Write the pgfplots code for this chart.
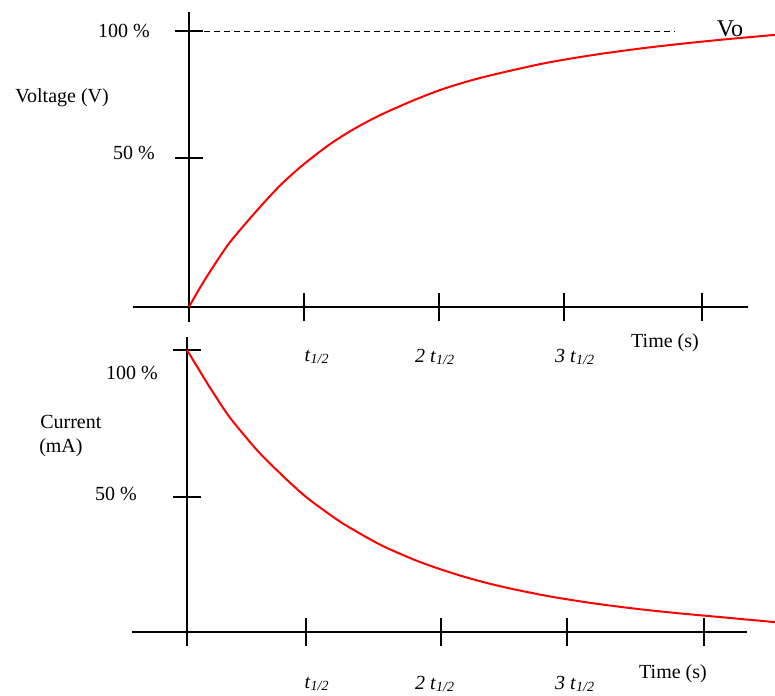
\documentclass[border=0pt]{standalone}
\usepackage{pgfplots}
\pgfplotsset{compat=1.18}
\usepackage{fontspec}
\setmainfont{Liberation Serif}
\newcommand\lbl{\fontsize{15}{18}\selectfont}
\newcommand\thalf[1]{\textit{#1t}\textsubscript{\textit{1/2}}}
\begin{document}
\begin{tikzpicture}
\useasboundingbox (0,0) rectangle (581.25pt,522pt);
\pgfplotsset{
  myax/.style={
    axis lines=middle,
    axis line style={-, line width=1pt, black},
    x=0.75pt,
    clip=false,
    tick align=center,
    major tick length=21pt,
    tick style={line width=1pt, black},
    xticklabels={}, yticklabels={},
    anchor=south west,
  }
}
% Voltage
\begin{axis}[myax, at={(99.75pt,280.5pt)}, y=2.07pt,
  xmin=-56, xmax=559, ymin=-5.43, ymax=106.88,
  xtick={115,250,375,513}, ytick={54,100}]
\addplot[black, line width=0.7pt, dash pattern=on 4.5pt off 3pt] coordinates {(15,100) (486,100)};
\addplot[red, line width=1.5pt, smooth] coordinates {
(0,0) (11,7.0) (24,14.5) (41,23.5) (68,35.0) (91,44.0) (114,51.5) (141,59.0)
(164,64.3) (191,69.5) (224,74.8) (251,78.6) (281,82.0) (314,85.0) (358,88.5)
(404,91.3) (448,93.5) (488,95.2) (534,96.9) (586,98.6)};
\end{axis}
% Current
\begin{axis}[myax, at={(99pt,37.5pt)}, y=2.115pt,
  xmin=-55, xmax=560, ymin=-4.96, ymax=104.61,
  xtick={119,254,380,517}, ytick={47.9,100}]
\addplot[red, line width=1.5pt, smooth] coordinates {
(0,100) (18,89.5) (26,85.0) (43,76.0) (70,64.5) (93,56.3) (118,48.2) (143,41.6)
(160,37.6) (193,31.0) (226,25.8) (253,22.3) (283,19.0) (316,16.0) (360,12.8)
(406,10.2) (450,8.2) (490,6.7) (536,5.2) (588,3.5)};
\end{axis}
\begin{scope}[x=0.75pt,y=-0.75pt,yshift=522pt]
% top labels
\node[anchor=east,inner sep=0pt] at (150,31) {\lbl 100 \%};
\node[anchor=east,inner sep=0pt] at (155,153) {\lbl 50 \%};
\node[anchor=west,inner sep=0pt] at (15,98) {\lbl Voltage (V)};
\node[inner sep=0pt] at (317,357) {\lbl\thalf{}};
\node[inner sep=0pt] at (435,357) {\lbl\thalf{2 }};
\node[inner sep=0pt] at (575,357) {\lbl\thalf{3 }};
\node[inner sep=0pt] at (665,343) {\lbl Time (s)};
\node[anchor=base,inner sep=0pt] at (730,37) {\fontsize{18}{20}\selectfont Vo};
% bottom labels
\node[anchor=east,inner sep=0pt] at (158,373) {\lbl 100 \%};
\node[anchor=east,inner sep=0pt] at (137,494) {\lbl 50 \%};
\node[anchor=west,inner sep=0pt] at (40,422) {\lbl Current};
\node[anchor=west,inner sep=0pt] at (39,448) {\lbl (mA)};
\node[inner sep=0pt] at (317,684) {\lbl\thalf{}};
\node[inner sep=0pt] at (435,684) {\lbl\thalf{2 }};
\node[inner sep=0pt] at (575,684) {\lbl\thalf{3 }};
\node[inner sep=0pt] at (673,674) {\lbl Time (s)};
\end{scope}
\end{tikzpicture}
\end{document}
